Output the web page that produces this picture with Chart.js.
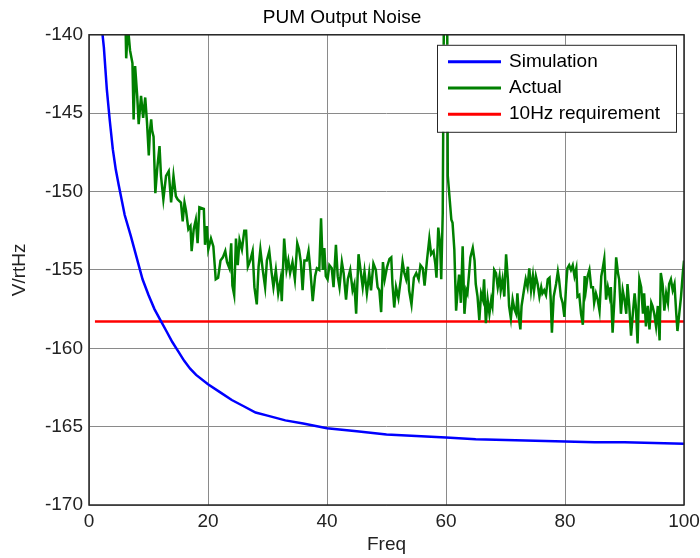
<!DOCTYPE html>
<html>
<head>
<meta charset="utf-8">
<script src="https://cdn.jsdelivr.net/npm/chart.js@4.4.1/dist/chart.umd.min.js"></script>
<style>
  html, body { margin: 0; padding: 0; background: #fff; }
  #wrap { width: 700px; height: 558px; }
</style>
</head>
<body>
<div id="wrap"><canvas id="chart" width="700" height="558"></canvas></div>
<script>
// Simulation curve (blue)
let simFreq = [2, 2.5, 3, 3.5, 4, 4.5, 5, 6, 7, 8, 9, 10, 11, 12, 13, 14, 15, 16, 17, 18, 20, 22, 24, 26, 28, 30, 33, 36, 40, 45, 50, 55, 60, 65, 70, 75, 80, 85, 90, 95, 100];
let simNoise = [-139.0, -140.8, -143.5, -145.5, -147.3, -148.6, -149.6, -151.5, -152.8, -154.2, -155.6, -156.6, -157.5, -158.2, -158.9, -159.6, -160.2, -160.8, -161.3, -161.7, -162.3, -162.8, -163.3, -163.7, -164.1, -164.3, -164.6, -164.8, -165.1, -165.3, -165.5, -165.6, -165.7, -165.8, -165.85, -165.9, -165.95, -166.0, -166.0, -166.05, -166.1];

// Measured noise (green)
let actualFreq = [6.1, 6.25, 6.55, 6.9, 7.3, 7.5, 7.75, 8.1, 8.35, 8.75, 9.1, 9.45, 9.75, 10.05, 10.25, 10.45, 10.6, 10.85, 11.15, 11.45, 11.85, 12.1, 12.5, 12.95, 13.4, 13.8, 14.2, 14.6, 14.9, 15.45, 15.75, 16.05, 16.3, 16.7, 17.05, 17.25, 17.6, 17.95, 18.25, 18.55,
  19.3, 19.5, 19.8, 20.05, 20.5, 20.9, 21.3, 21.7, 22.1, 22.5, 22.9, 23.2, 23.6, 23.9, 24.1, 24.4, 24.7, 25.0, 25.3, 25.7, 26.1, 26.4, 26.7, 27.1, 27.5, 27.8, 28.2, 28.5, 28.8, 29.2, 29.6, 29.9,
  30.3, 30.7, 31.0, 31.4, 31.8, 32.2, 32.4, 32.8, 33.2, 33.5, 33.8, 34.2, 34.6, 35.0, 35.3, 35.6, 35.9, 36.2, 36.6, 36.9, 37.2, 37.6, 38.0, 38.3, 38.7, 39.0, 39.3, 39.55, 39.8,
  40.1, 40.4, 40.8, 41.1, 41.5, 41.8, 42.1, 42.5, 42.8, 43.2, 43.5, 43.9, 44.3, 44.6, 44.9, 45.3, 45.6, 46.0, 46.3, 46.7, 47.1, 47.4, 47.8, 48.2, 48.5, 48.8, 49.1, 49.4, 49.7,
  50.1, 50.5, 50.8, 51.0, 51.3, 51.6, 52.0, 52.4, 52.7, 53.0, 53.3, 53.6, 53.8, 54.2, 54.6, 55.0, 55.4, 55.7, 56.1, 56.4, 56.8, 57.2, 57.5, 57.9, 58.2, 58.4, 58.7, 59.0, 59.2, 59.45,
  59.7, 59.9, 60.1, 60.3, 60.9, 61.1, 61.4, 61.7, 62.0, 62.2, 62.5, 62.8, 63.1, 63.4, 63.6, 64.1, 64.5, 64.8, 65.0, 65.3, 65.6, 65.9, 66.2, 66.4, 66.7, 67.0, 67.3, 67.6, 67.8,
  68.1, 68.4, 68.7, 69.0, 69.2, 69.5, 69.8, 70.1, 70.4, 70.6, 70.9, 71.2, 71.5, 71.8, 72.0, 72.3, 72.5, 72.7, 73.1, 73.4, 73.7, 74.0, 74.3, 74.6, 74.8, 75.1, 75.4, 75.7,
  76.0, 76.2, 76.5, 76.8, 77.1, 77.4, 77.6, 77.8, 78.1, 78.5, 78.8, 79.0, 79.3, 79.6, 79.9, 80.2, 80.4, 80.7, 81.0, 81.3, 81.6, 81.9, 82.1, 82.4, 82.7, 83.0, 83.3, 83.5, 83.8,
  84.1, 84.4, 84.7, 84.9, 85.2, 85.5, 85.8, 86.1, 86.3, 86.6, 86.9, 87.2, 87.5, 87.7, 88.0, 88.3, 88.6, 88.9, 89.1, 89.4, 89.7, 90.0, 90.3, 90.5, 90.8, 91.1, 91.4, 91.7, 91.9,
  92.2, 92.5, 92.8, 93.1, 93.3, 93.6, 93.9, 94.2, 94.5, 94.7, 95.0, 95.3, 95.6, 95.9, 96.1, 96.4, 96.7, 97.0, 97.3, 97.5, 97.8, 98.1, 98.4, 98.7, 98.9, 99.2, 99.5, 99.8, 100.0];
let actualNoise = [-138.5, -141.5, -139.5, -141.0, -141.8, -145.4, -142.0, -143.9, -145.7, -143.9, -145.3, -144.0, -145.6, -147.7, -146.1, -145.4, -146.1, -146.5, -150.1, -148.6, -147.1, -149.0, -150.5, -149.0, -148.7, -150.7, -149.0, -150.3, -150.5, -150.7, -151.9, -150.7, -151.2, -152.4, -152.2, -153.8, -152.4, -151.8, -153.3, -151.0,
  -151.1, -153.4, -152.2, -153.7, -153.0, -153.5, -155.6, -155.5, -154.4, -154.2, -153.8, -154.5, -154.9, -153.3, -156.0, -156.6, -153.0, -154.7, -153.1, -153.7, -152.5, -152.5, -154.8, -154.4, -153.8, -156.1, -157.2, -154.8, -153.7, -155.0, -156.1, -154.4,
  -153.8, -155.2, -156.1, -155.0, -156.5, -155.6, -157.0, -153.0, -155.0, -154.4, -155.2, -154.5, -155.6, -153.3, -153.7, -154.5, -156.3, -154.4, -154.4, -153.8, -155.0, -157.0, -155.4, -154.9, -155.0, -151.7, -155.0, -153.6, -155.4,
  -155.6, -154.7, -154.9, -156.1, -153.4, -155.4, -156.1, -154.5, -155.2, -156.9, -155.6, -155.0, -156.3, -155.9, -157.8, -154.0, -154.9, -156.1, -155.1, -156.5, -155.2, -156.3, -154.6, -155.0, -156.1, -156.3, -157.7, -154.5, -155.6,
  -154.8, -154.3, -154.2, -155.9, -157.4, -156.1, -156.8, -155.6, -154.5, -155.2, -155.6, -154.8, -156.3, -157.2, -155.5, -155.2, -155.6, -154.7, -154.9, -156.0, -154.4, -153.0, -154.0, -153.8, -154.6, -155.5, -152.3, -153.3, -155.6, -151.4,
  -135.0, -120.0, -128.0, -149.0, -151.8, -152.0, -153.7, -157.6, -156.1, -155.3, -157.1, -153.5, -157.8, -156.3, -156.5, -154.2, -153.6, -154.4, -155.9, -156.7, -158.2, -156.5, -156.9, -155.6, -158.4, -156.9, -157.8, -156.9, -157.3,
  -155.0, -155.2, -156.1, -155.4, -156.3, -155.6, -156.7, -154.0, -155.6, -157.3, -158.1, -156.9, -157.5, -157.8, -156.5, -158.2, -158.8, -157.3, -156.3, -155.6, -156.1, -154.9, -156.3, -155.4, -156.3, -155.4, -155.9, -156.7,
  -156.1, -156.5, -156.3, -156.6, -155.6, -155.5, -156.9, -159.0, -156.7, -155.9, -155.1, -155.6, -156.7, -157.1, -158.0, -155.9, -154.9, -154.7, -155.0, -154.7, -155.4, -154.9, -156.7, -156.6, -157.8, -158.5, -155.4, -156.3, -155.4,
  -155.0, -156.1, -156.1, -157.1, -156.5, -156.9, -157.6, -155.4, -155.0, -154.3, -156.9, -156.1, -156.7, -156.1, -159.0, -156.9, -154.2, -155.2, -155.6, -157.8, -156.3, -156.9, -157.8, -155.9, -157.3, -159.2, -157.8, -156.5, -157.3,
  -159.7, -155.6, -156.1, -157.8, -156.5, -158.6, -157.3, -158.8, -157.1, -157.3, -157.8, -158.6, -157.3, -159.5, -155.2, -155.9, -157.6, -156.5, -157.1, -155.9, -155.6, -156.3, -155.9, -157.8, -158.9, -157.8, -156.7, -155.2, -154.4];

// 10Hz requirement (red)
let reqFreq = [1, 100];
let reqLevel = [-158.3, -158.3];

let xTicks = [0, 20, 40, 60, 80, 100];
let yTicks = [-170, -165, -160, -155, -150, -145, -140];

function pts(xs, ys) {
  return xs.map((x, i) => ({ x: x, y: ys[i] }));
}

const FONT = "'Liberation Sans', Arial, sans-serif";
Chart.defaults.font.family = FONT;
Chart.defaults.font.size = 19;
Chart.defaults.color = '#222';

// full box around the axes, like matlab
const frame = {
  id: 'frame',
  afterDatasetsDraw(chart) {
    let a = chart.chartArea, ctx = chart.ctx;
    ctx.save();
    ctx.strokeStyle = '#262626';
    ctx.lineWidth = 1.5;
    ctx.strokeRect(a.left, a.top, a.right - a.left, a.bottom - a.top);
    ctx.restore();
  }
};

// legend box inside the plot (top right)
const boxLegend = {
  id: 'boxLegend',
  afterDraw(chart) {
    let a = chart.chartArea, ctx = chart.ctx;
    let w = 239, h = 87;
    let x0 = a.right - 8 - w, y0 = a.top + 10;
    ctx.save();
    ctx.fillStyle = '#fff';
    ctx.fillRect(x0, y0, w, h);
    ctx.strokeStyle = '#262626';
    ctx.lineWidth = 1;
    ctx.strokeRect(x0 + 0.5, y0 + 0.5, w, h);
    ctx.font = '19px ' + FONT;
    ctx.textBaseline = 'middle';
    ctx.textAlign = 'left';
    chart.data.datasets.forEach((ds, i) => {
      let y = y0 + 17 + i * 26.2;
      ctx.strokeStyle = ds.borderColor;
      ctx.lineWidth = 3;
      ctx.beginPath();
      ctx.moveTo(x0 + 11, y);
      ctx.lineTo(x0 + 64, y);
      ctx.stroke();
      ctx.fillStyle = '#000';
      ctx.fillText(ds.label, x0 + 72, y);
    });
    ctx.restore();
  }
};

new Chart(document.getElementById('chart'), {
  type: 'line',
  data: {
    datasets: [
      { label: 'Simulation', data: pts(simFreq, simNoise), borderColor: '#0000ff', borderWidth: 2.5 },
      { label: 'Actual', data: pts(actualFreq, actualNoise), borderColor: '#008000', borderWidth: 2.5 },
      { label: '10Hz requirement', data: pts(reqFreq, reqLevel), borderColor: '#ff0000', borderWidth: 2.5 }
    ]
  },
  options: {
    responsive: false,
    animation: false,
    devicePixelRatio: 1,
    layout: { padding: { left: 0, right: 16, top: 0, bottom: 0 } },
    elements: { point: { radius: 0 }, line: { tension: 0 } },
    plugins: {
      legend: { display: false },
      tooltip: { enabled: false },
      title: {
        display: true,
        text: 'PUM Output Noise',
        color: '#000',
        font: { size: 19, weight: 'normal' },
        padding: { top: 6, bottom: 6 }
      }
    },
    scales: {
      x: {
        type: 'linear',
        min: 0, max: 100,
        afterFit: s => { s.height = 53; s.paddingLeft = 0; s.paddingRight = 0; },
        afterBuildTicks: s => { s.ticks = xTicks.map(v => ({ value: v })); },
        ticks: { padding: 5, maxRotation: 0 },
        grid: { color: '#8a8a8a', lineWidth: 1, drawTicks: false },
        border: { display: false },
        title: { display: true, text: 'Freq', padding: { top: 0, bottom: 2 } }
      },
      y: {
        type: 'linear',
        min: -170, max: -140,
        afterFit: s => { s.width = 89; s.paddingTop = 0; s.paddingBottom = 0; },
        afterBuildTicks: s => { s.ticks = yTicks.map(v => ({ value: v })); },
        ticks: { padding: 6 },
        grid: { color: '#8a8a8a', lineWidth: 1, drawTicks: false },
        border: { display: false },
        title: { display: true, text: 'V/rtHz', padding: { top: 8, bottom: 0 } }
      }
    }
  },
  plugins: [frame, boxLegend]
});
</script>
</body>
</html>
